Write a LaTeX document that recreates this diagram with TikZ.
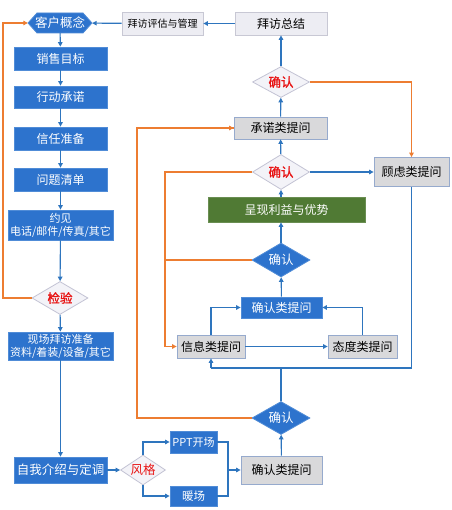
\documentclass[tikz,border=0pt]{standalone}
\usepackage{fontspec}
\setmainfont{Noto Sans CJK SC}[AutoFakeBold=1.5]
\usetikzlibrary{arrows.meta,shapes.geometric}
\definecolor{bfill}{RGB}{45,115,205}
\definecolor{bdraw}{RGB}{80,140,215}
\definecolor{gfill}{RGB}{217,217,219}
\definecolor{gdraw}{RGB}{150,170,205}
\definecolor{lfill}{RGB}{237,237,243}
\definecolor{ldraw}{RGB}{200,200,212}
\definecolor{dfill}{RGB}{243,243,248}
\definecolor{ddraw}{RGB}{195,195,212}
\definecolor{redt}{RGB}{232,20,20}
\definecolor{greenf}{RGB}{80,122,52}
\definecolor{orangel}{RGB}{237,125,49}
\definecolor{bluel}{RGB}{46,117,190}
\tikzset{
  bluebox/.style={draw=bdraw, fill=bfill, text=white, line width=0.8pt, inner sep=0pt, align=center, font=\fontsize{12}{14}\selectfont},
  graybox/.style={draw=gdraw, fill=gfill, text=black, line width=0.8pt, inner sep=0pt, align=center, font=\fontsize{12}{14}\selectfont},
  lightbox/.style={draw=ldraw, fill=lfill, text=black, line width=0.8pt, inner sep=0pt, align=center, font=\fontsize{12}{14}\selectfont},
  greenbox/.style={draw=greenf!85!white, fill=greenf, text=white, line width=0.8pt, inner sep=0pt, font=\fontsize{12}{14}\selectfont},
  reddia/.style={diamond, draw=ddraw, fill=dfill, text=redt, line width=0.8pt, inner sep=0pt, aspect=1.7, font=\fontsize{12.5}{14}\selectfont\bfseries},
  bluedia/.style={diamond, draw=bdraw, fill=bfill, text=white, line width=0.8pt, inner sep=0pt, aspect=1.7, font=\fontsize{12.5}{14}\selectfont},
  barrow/.style={draw=bluel, line width=1.1pt, -{Triangle[width=4.5pt,length=4.5pt]}},
  bline/.style={draw=bluel, line width=1.1pt},
  oarrow/.style={draw=orangel, line width=1.3pt, -{Triangle[width=4.5pt,length=4.5pt]}},
  oline/.style={draw=orangel, line width=1.3pt}
}
\begin{document}
\begin{tikzpicture}[x=1pt,y=-1pt]
\useasboundingbox (0,0) rectangle (451,510);
\fill[white] (0,0) rectangle (451,510);
% left column
\path[draw=bdraw, fill=bfill, line width=0.8pt] (28,23) -- (37,13) -- (83,13) -- (92,23) -- (83,33) -- (37,33) -- cycle;
\node[text=white, font=\fontsize{12.5}{14}\selectfont, minimum width=64, minimum height=20, inner sep=0pt] (kh) at (60,23) {客户概念};
\node[bluebox, minimum width=93, minimum height=23] (xs) at (60.5,58.5) {销售目标};
\node[bluebox, minimum width=93, minimum height=22] (xd) at (60.5,97) {行动承诺};
\node[bluebox, minimum width=93, minimum height=23] (xr) at (60.5,138.5) {信任准备};
\node[bluebox, minimum width=93, minimum height=23] (wt) at (60.5,179.5) {问题清单};
\node[bluebox, minimum width=105, minimum height=30, font=\fontsize{11}{13}\selectfont] (yj) at (60.5,225) {约见\\电话/邮件/传真/其它};
\node[reddia, minimum width=56, minimum height=33] (jy) at (60,298) {检验};
\node[bluebox, minimum width=105, minimum height=28, font=\fontsize{11}{13}\selectfont] (xc) at (60.5,346) {现场拜访准备\\资料/着装/设备/其它};
\node[bluebox, minimum width=93, minimum height=26, font=\fontsize{12.5}{14}\selectfont] (zw) at (60.5,470) {自我介绍与定调};
\node[reddia, minimum width=45, minimum height=30, font=\fontsize{12.5}{14}\selectfont] (fg) at (143,470) {风格};
\node[bluebox, minimum width=47, minimum height=22, font=\fontsize{11}{13}\selectfont] (ppt) at (193.5,442) {PPT开场};
\node[bluebox, minimum width=47, minimum height=20, font=\fontsize{11.5}{13}\selectfont] (nc) at (193.5,496) {暖场};
% right part
\node[graybox, minimum width=81, minimum height=28] (qr1) at (281.5,470) {确认类提问};
\node[bluedia, minimum width=58, minimum height=33] (cf1) at (281,418) {确认};
\node[graybox, minimum width=68, minimum height=23] (xx) at (211,346.5) {信息类提问};
\node[graybox, minimum width=69, minimum height=23] (td) at (362.5,346.5) {态度类提问};
\node[bluebox, minimum width=81, minimum height=21] (qr2) at (281.5,307.5) {确认类提问};
\node[bluedia, minimum width=58, minimum height=34] (cf2) at (281,260) {确认};
\node[greenbox, minimum width=157, minimum height=25] (cx) at (286.5,209.5) {呈现利益与优势};
\node[reddia, minimum width=57, minimum height=35] (cf3) at (281,172) {确认};
\node[graybox, minimum width=75, minimum height=29] (gl) at (411.5,172) {顾虑类提问};
\node[graybox, minimum width=93, minimum height=22] (cn) at (280.5,128) {承诺类提问};
\node[reddia, minimum width=57, minimum height=31] (cf4) at (281,82) {确认};
\node[lightbox, minimum width=92, minimum height=23] (bz) at (281,23.5) {拜访总结};
\node[lightbox, minimum width=81, minimum height=23, font=\fontsize{10}{12}\selectfont] (pg) at (162.5,23.5) {拜访评估与管理};
\coordinate (jn) at (228,470);
\coordinate (bj) at (211,368);
\coordinate (bm) at (281,368);
% left column arrows
\draw[barrow] (kh) -- (xs);
\draw[barrow] (xs) -- (xd);
\draw[barrow] (xd) -- (xr);
\draw[barrow] (xr) -- (wt);
\draw[barrow] (wt) -- (yj);
\draw[barrow] (yj) -- (jy);
\draw[barrow] (jy) -- (xc);
\draw[barrow] (xc) -- (zw);
\draw[oarrow, line width=1.6pt] (jy.west) -- (3,298) |- (kh.west);
\draw[barrow] (zw) -- (fg);
\draw[barrow] (fg.north) |- (ppt.west);
\draw[barrow] (fg.south) |- (nc.west);
\draw[bline] (ppt.east) -| (jn) |- (nc.east);
\draw[barrow] (jn) -- (qr1.west);
\draw[barrow] (qr1) -- (cf1);
\draw[oline] (cf1.west) -- (137,418) |- (cn.west);
\draw[oarrow] (137,128) -- (cn.west);
\draw[bline] (cf1.north) -- (bm);
\draw[bline] (gl.south) |- (bj);
\draw[barrow] (bj) -- (xx.south);
\draw[barrow] (xx) -- (td);
\draw[barrow] (xx.north) |- (qr2.west);
\draw[barrow] (td.north) |- (qr2.east);
\draw[barrow] (qr2) -- (cf2);
\draw[barrow] (cf2.north) -- (cf2.north |- cx.south);
\draw[oline] (cf2.west) -- (165,260);
\draw[barrow] (cf2.north |- cx.north) -- (cf3.south);
\draw[oarrow] (cf3.west) -- (165,172) |- (xx.west);
\draw[barrow] (cf3.east) -- (gl.west);
\draw[barrow] (cf3) -- (cn);
\draw[barrow] (cn) -- (cf4);
\draw[oarrow] (cf4.east) -| (gl.north);
\draw[barrow] (cf4) -- (bz);
\draw[barrow] (bz) -- (pg);
\draw[barrow] (pg) -- (kh);
\end{tikzpicture}
\end{document}
